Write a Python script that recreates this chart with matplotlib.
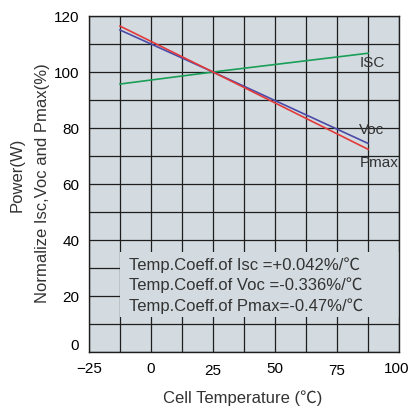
import matplotlib
matplotlib.use("Agg")
import matplotlib.pyplot as plt
from matplotlib.patches import Rectangle
from matplotlib.transforms import ScaledTranslation

plt.rcParams['font.family'] = ['Liberation Sans', 'Noto Sans CJK SC', 'DejaVu Sans']

temps = [-12.5, 25, 87.5]
isc = [95.7, 100, 106.7]
voc = [115.0, 100, 74.5]
pmax = [116.4, 100, 72.4]
series_labels = ["ISC", "Voc", "Pmax"]
label_y = [103.2, 79.3, 67.5]
xticks = [-25, 0, 25, 50, 75, 100]
yticks = [0, 20, 40, 60, 80, 100, 120]
coeff_lines = ["Temp.Coeff.of Isc =+0.042%/\u2103",
               "Temp.Coeff.of Voc =-0.336%/\u2103",
               "Temp.Coeff.of Pmax=-0.47%/\u2103"]

bg = "#d3dbe0"
grid_c = "#1e1e1e"
txt_c = "#333333"

fig = plt.figure(figsize=(4.1, 4.15), dpi=100)
ax = fig.add_axes([89/410, 1-352/415, 310/410, 336/415])
ax.set_facecolor(bg)
ax.set_xlim(-25, 100)
ax.set_ylim(0, 120)

for gx in [-25 + 12.5*i for i in range(11)]:
    ax.axvline(gx, color=grid_c, lw=0.9, zorder=1)
for gy in range(0, 121, 10):
    ax.axhline(gy, color=grid_c, lw=0.9, zorder=1)

ax.add_patch(Rectangle((-12.3, 12.5), 112.3, 23.2, facecolor=bg, edgecolor='none', zorder=2))

ax.plot(temps, isc, color="#1a9e58", lw=1.2, zorder=3)
ax.plot(temps, voc, color="#4a4aa8", lw=1.2, zorder=3)
ax.plot(temps, pmax, color="#e23a3a", lw=1.2, zorder=3)

for lab, ly in zip(series_labels, label_y):
    ax.text(84, ly, lab, fontsize=11, color=txt_c, ha='left', va='center', zorder=4)

for i, line in enumerate(coeff_lines):
    ax.text(-8.9, 31.1 - 7.4*i, line, fontsize=12, color=txt_c, ha='left', va='center', zorder=4)

ax.set_xticks(xticks)
ax.set_yticks(yticks)
ax.set_xticklabels([("\u2212" + str(-t)) if t < 0 else str(t) for t in xticks])
ax.tick_params(length=0, labelsize=11, colors='black', pad=7)
ax.tick_params(axis='x', pad=7)
for s in ax.spines.values():
    s.set_color(grid_c)
    s.set_linewidth(1.0)
    s.set_zorder(5)

# small per-label offsets seen in the reference
for t, lbl in zip(xticks, ax.get_xticklabels()):
    dx = -2 if t == 100 else 0
    dy = -2.5 if t in (25, 75) else 0
    lbl.set_transform(lbl.get_transform() + ScaledTranslation(dx/100, dy/100, fig.dpi_scale_trans))
for t, lbl in zip(yticks, ax.get_yticklabels()):
    if t == 0:
        lbl.set_transform(lbl.get_transform() + ScaledTranslation(0, 7/100, fig.dpi_scale_trans))

fig.text(243/410, 1-398/415, "Cell Temperature (\u2103)", fontsize=12, color=txt_c, ha='center', va='center')
fig.text(17/410, 1-175/415, "Power(W)", rotation=90, fontsize=12, color=txt_c, ha='center', va='center')
fig.text(43/410, 1-183/415, "Normalize Isc,Voc and Pmax(%)", rotation=90, fontsize=12, color=txt_c, ha='center', va='center')

fig.savefig("out.png", dpi=100)
